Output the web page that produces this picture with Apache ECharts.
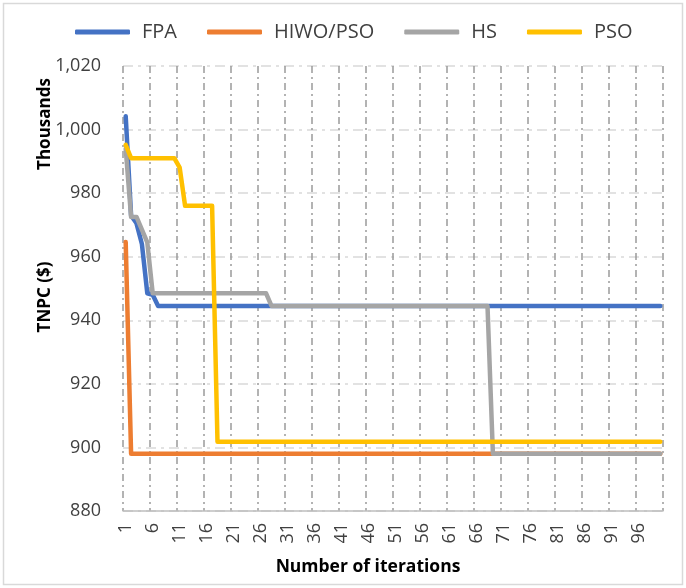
<!DOCTYPE html>
<html lang="en">
<head>
	<meta charset="UTF-8">
	<title>TNPC vs iterations</title>
	<style>
	body, div {
		margin: 0;
		padding: 0;
	}
	.echart {
		width: 686px;
		height: 588px;
	}
	</style>
</head>
<body>
	<div id="echart" class="echart"></div>

	<script src="https://cdn.jsdelivr.net/npm/echarts@6/dist/echarts.min.js"></script>
	<script>

	// TNPC values, in thousands of $
	var fpa = [
		1004.2, 973, 970.5, 964, 948.5, 948, 944.5, 944.5, 944.5, 944.5,
		944.5, 944.5, 944.5, 944.5, 944.5, 944.5, 944.5, 944.5, 944.5, 944.5,
		944.5, 944.5, 944.5, 944.5, 944.5, 944.5, 944.5, 944.5, 944.5, 944.5,
		944.5, 944.5, 944.5, 944.5, 944.5, 944.5, 944.5, 944.5, 944.5, 944.5,
		944.5, 944.5, 944.5, 944.5, 944.5, 944.5, 944.5, 944.5, 944.5, 944.5,
		944.5, 944.5, 944.5, 944.5, 944.5, 944.5, 944.5, 944.5, 944.5, 944.5,
		944.5, 944.5, 944.5, 944.5, 944.5, 944.5, 944.5, 944.5, 944.5, 944.5,
		944.5, 944.5, 944.5, 944.5, 944.5, 944.5, 944.5, 944.5, 944.5, 944.5,
		944.5, 944.5, 944.5, 944.5, 944.5, 944.5, 944.5, 944.5, 944.5, 944.5,
		944.5, 944.5, 944.5, 944.5, 944.5, 944.5, 944.5, 944.5, 944.5, 944.5
	];
	var hiwoPso = [
		964.6, 898, 898, 898, 898, 898, 898, 898, 898, 898,
		898, 898, 898, 898, 898, 898, 898, 898, 898, 898,
		898, 898, 898, 898, 898, 898, 898, 898, 898, 898,
		898, 898, 898, 898, 898, 898, 898, 898, 898, 898,
		898, 898, 898, 898, 898, 898, 898, 898, 898, 898,
		898, 898, 898, 898, 898, 898, 898, 898, 898, 898,
		898, 898, 898, 898, 898, 898, 898, 898, 898, 898,
		898, 898, 898, 898, 898, 898, 898, 898, 898, 898,
		898, 898, 898, 898, 898, 898, 898, 898, 898, 898,
		898, 898, 898, 898, 898, 898, 898, 898, 898, 898
	];
	var hs = [
		994, 972.5, 972.5, 968.5, 964.5, 948.5, 948.5, 948.5, 948.5, 948.5,
		948.5, 948.5, 948.5, 948.5, 948.5, 948.5, 948.5, 948.5, 948.5, 948.5,
		948.5, 948.5, 948.5, 948.5, 948.5, 948.5, 948.5, 944.5, 944.5, 944.5,
		944.5, 944.5, 944.5, 944.5, 944.5, 944.5, 944.5, 944.5, 944.5, 944.5,
		944.5, 944.5, 944.5, 944.5, 944.5, 944.5, 944.5, 944.5, 944.5, 944.5,
		944.5, 944.5, 944.5, 944.5, 944.5, 944.5, 944.5, 944.5, 944.5, 944.5,
		944.5, 944.5, 944.5, 944.5, 944.5, 944.5, 944.5, 944.5, 898, 898,
		898, 898, 898, 898, 898, 898, 898, 898, 898, 898,
		898, 898, 898, 898, 898, 898, 898, 898, 898, 898,
		898, 898, 898, 898, 898, 898, 898, 898, 898, 898
	];
	var pso = [
		995.2, 991, 991, 991, 991, 991, 991, 991, 991, 991,
		988, 976, 976, 976, 976, 976, 976, 901.8, 901.8, 901.8,
		901.8, 901.8, 901.8, 901.8, 901.8, 901.8, 901.8, 901.8, 901.8, 901.8,
		901.8, 901.8, 901.8, 901.8, 901.8, 901.8, 901.8, 901.8, 901.8, 901.8,
		901.8, 901.8, 901.8, 901.8, 901.8, 901.8, 901.8, 901.8, 901.8, 901.8,
		901.8, 901.8, 901.8, 901.8, 901.8, 901.8, 901.8, 901.8, 901.8, 901.8,
		901.8, 901.8, 901.8, 901.8, 901.8, 901.8, 901.8, 901.8, 901.8, 901.8,
		901.8, 901.8, 901.8, 901.8, 901.8, 901.8, 901.8, 901.8, 901.8, 901.8,
		901.8, 901.8, 901.8, 901.8, 901.8, 901.8, 901.8, 901.8, 901.8, 901.8,
		901.8, 901.8, 901.8, 901.8, 901.8, 901.8, 901.8, 901.8, 901.8, 901.8
	];

	var seriesNames = ['FPA', 'HIWO/PSO', 'HS', 'PSO'];
	var seriesColors = ['#4472c4', '#ed7d31', '#a5a5a5', '#ffc000'];

	// iterations 1..100
	var iterations = [];
	for (var i = 1; i <= 100; i++) {
		iterations.push(String(i));
	}

	var font = '"Open Sans", sans-serif';
	var textColor = '#404040';

	var _series = [];
	var allData = [fpa, hiwoPso, hs, pso];
	for (var s = 0; s < allData.length; s++) {
		_series.push({
			name: seriesNames[s],
			type: 'line',
			data: allData[s],
			symbol: 'none',
			color: seriesColors[s],
			lineStyle: {
				width: 4.5,
				cap: 'round',
				join: 'round'
			},
			emphasis: { disabled: true }
		});
	}

	var option = {
		animation: false,
		textStyle: { fontFamily: font },
		legend: {
			top: 17,
			left: 70,
			icon: 'roundRect',
			itemWidth: 55,
			itemHeight: 5,
			itemGap: 30,
			textStyle: {
				fontSize: 20,
				color: textColor,
				padding: [0, 0, 0, 7]
			},
			data: seriesNames
		},
		grid: {
			left: 123,
			right: 23,
			top: 66,
			bottom: 77
		},
		xAxis: {
			type: 'category',
			boundaryGap: true,
			data: iterations,
			axisLine: { lineStyle: { color: '#bfbfbf', width: 1.5 } },
			axisTick: { show: false },
			axisLabel: {
				interval: 4,
				rotate: 90,
				margin: 12,
				fontSize: 18,
				color: textColor
			},
			splitLine: {
				show: true,
				interval: 4,
				lineStyle: { color: '#9a9a9a', width: 1.5, type: [7, 4, 2, 4] }
			}
		},
		yAxis: {
			type: 'value',
			min: 880,
			max: 1020,
			interval: 20,
			axisLine: { show: false },
			axisTick: { show: false },
			axisLabel: {
				margin: 22,
				fontSize: 18,
				color: textColor,
				formatter: function(v) {
					return v.toLocaleString('en-US');
				}
			},
			splitLine: {
				lineStyle: { color: '#d9d9d9', width: 1.5, type: [10, 5, 3, 5] }
			}
		},
		graphic: [
			{
				type: 'rect',
				shape: { x: 3.5, y: 3.5, width: 679, height: 581 },
				style: { fill: 'none', stroke: '#d9d9d9', lineWidth: 1.5 },
				silent: true
			},
			{
				type: 'text',
				x: 368, y: 567,
				style: {
					text: 'Number of iterations',
					font: 'bold 17.5px ' + font,
					fill: '#000',
					align: 'center',
					verticalAlign: 'middle'
				}
			},
			{
				type: 'text',
				x: 45, y: 297,
				rotation: Math.PI / 2,
				style: {
					text: 'TNPC ($)',
					font: 'bold 17px ' + font,
					fill: '#000',
					align: 'center',
					verticalAlign: 'middle'
				}
			},
			{
				type: 'text',
				x: 45, y: 124,
				rotation: Math.PI / 2,
				style: {
					text: 'Thousands',
					font: 'bold 17px ' + font,
					fill: '#000',
					align: 'center',
					verticalAlign: 'middle'
				}
			}
		],
		series: _series
	};

	var myEcharts = echarts.init(document.getElementById('echart'));
	myEcharts.setOption(option);

	</script>
</body>
</html>
